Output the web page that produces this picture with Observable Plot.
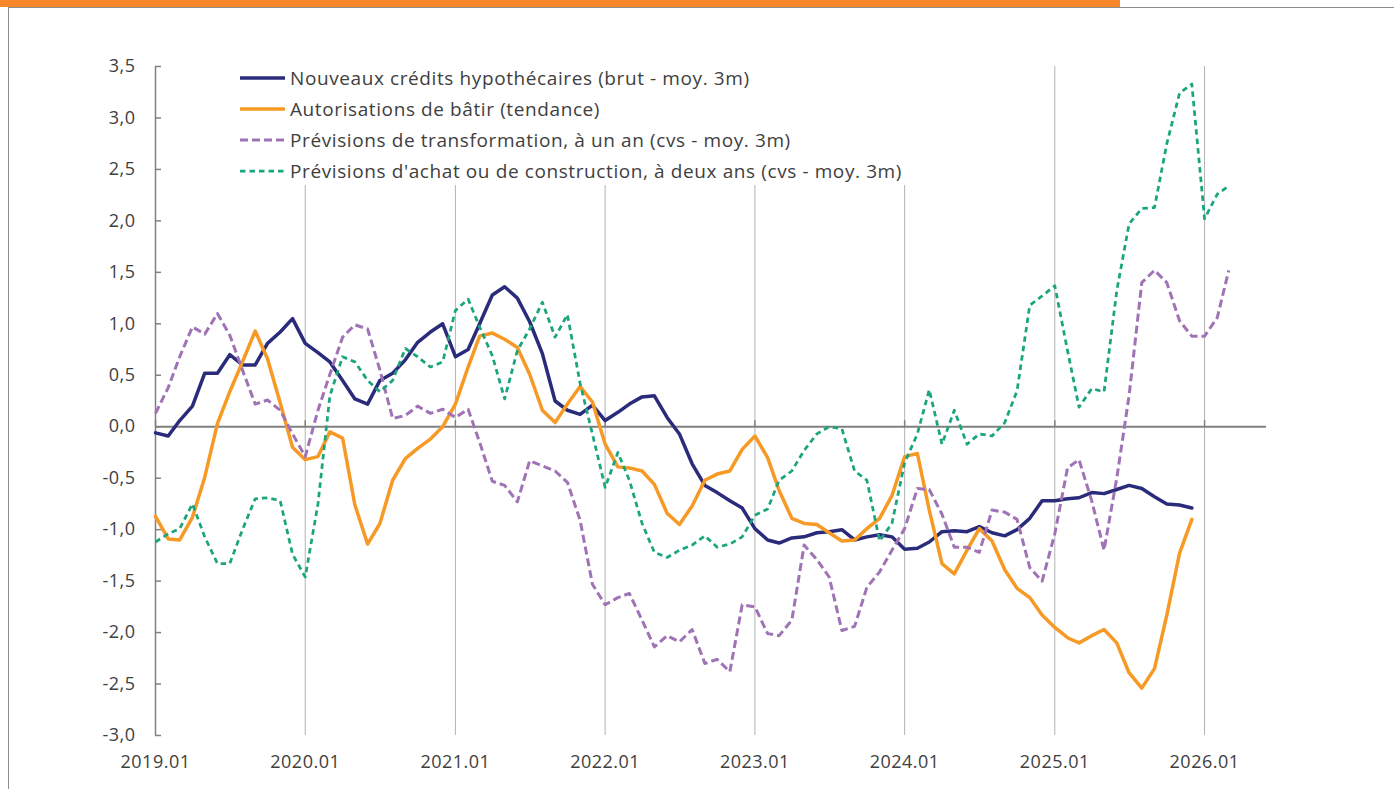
<!DOCTYPE html>
<html>
<head>
<meta charset="utf-8">
<script src="https://cdn.jsdelivr.net/npm/d3@7"></script>
<script src="https://cdn.jsdelivr.net/npm/@observablehq/plot@0.6"></script>
<style>
  html, body { margin: 0; padding: 0; background: #fff; }
  body { font-family: "Open Sans", sans-serif; color: #404040; }
  #wrap { position: relative; width: 1394px; height: 789px; overflow: hidden; background: #fff; }
  #chart { position: absolute; left: 0; top: 0; }
  #chart svg text { letter-spacing: 0.5px; }
  #topbar { position: absolute; left: 0; top: 0; width: 1120px; height: 7px; background: #F7882A; z-index: 3; }
  #topline { position: absolute; left: 8px; top: 7px; width: 1386px; height: 1px; background: #8c8c8c; z-index: 3; }
  #leftline { position: absolute; left: 8px; top: 7px; width: 1px; height: 782px; background: #8c8c8c; z-index: 3; }
  #legend { position: absolute; left: 236px; top: 62px; width: 676px; height: 123px; background: #fff; z-index: 2; }
  .row { display: flex; align-items: center; height: 31px; }
  .row svg { margin-left: 4px; margin-right: 5px; flex: none; }
  .row span { font-size: 19px; letter-spacing: 0.6px; white-space: nowrap; color: #404040; }
</style>
</head>
<body>
<div id="wrap">
  <div id="topbar"></div>
  <div id="topline"></div>
  <div id="leftline"></div>
  <div id="legend"></div>
  <div id="chart"></div>
</div>
<script>
// ---- Data (monthly, first value = 2019.01) ----
const startYear = 2019;

const seriesNames = [
  "Nouveaux crédits hypothécaires (brut - moy. 3m)",
  "Autorisations de bâtir (tendance)",
  "Prévisions de transformation, à un an (cvs - moy. 3m)",
  "Prévisions d'achat ou de construction, à deux ans (cvs - moy. 3m)"
];

const credits = [
  -0.06, -0.09, 0.06, 0.20, 0.52, 0.52, 0.70, 0.60, 0.60, 0.81, 0.92, 1.05,
  0.81, 0.72, 0.63, 0.45, 0.27, 0.22, 0.45, 0.52, 0.65, 0.82, 0.92, 1.00,
  0.68, 0.75, 1.00, 1.28, 1.36, 1.25, 1.02, 0.71, 0.25, 0.16, 0.12, 0.21,
  0.06, 0.14, 0.22, 0.29, 0.30, 0.09, -0.07, -0.36, -0.57, -0.64, -0.72, -0.79,
  -0.99, -1.10, -1.13, -1.08, -1.07, -1.03, -1.02, -1.00, -1.10, -1.07, -1.05, -1.07,
  -1.19, -1.18, -1.12, -1.02, -1.01, -1.02, -0.97, -1.03, -1.06, -1.00, -0.89, -0.72,
  -0.72, -0.70, -0.69, -0.64, -0.65, -0.61, -0.57, -0.60, -0.68, -0.75, -0.76, -0.79
];

const autorisations = [
  -0.87, -1.09, -1.10, -0.88, -0.49, 0.03, 0.34, 0.63, 0.93, 0.66, 0.23, -0.20,
  -0.32, -0.29, -0.05, -0.11, -0.76, -1.14, -0.94, -0.52, -0.31, -0.21, -0.12, 0.00,
  0.22, 0.58, 0.88, 0.91, 0.85, 0.77, 0.51, 0.16, 0.04, 0.22, 0.39, 0.24,
  -0.17, -0.39, -0.40, -0.43, -0.56, -0.84, -0.95, -0.77, -0.52, -0.46, -0.43, -0.22,
  -0.09, -0.30, -0.62, -0.89, -0.94, -0.95, -1.03, -1.11, -1.10, -0.99, -0.89, -0.67,
  -0.29, -0.26, -0.81, -1.33, -1.43, -1.20, -0.99, -1.11, -1.39, -1.57, -1.66, -1.83,
  -1.95, -2.05, -2.10, -2.03, -1.97, -2.10, -2.39, -2.54, -2.35, -1.83, -1.23, -0.90
];

const transformation = [
  0.13, 0.38, 0.68, 0.97, 0.90, 1.10, 0.89, 0.55, 0.22, 0.26, 0.16, -0.07,
  -0.29, 0.16, 0.51, 0.87, 0.99, 0.95, 0.55, 0.08, 0.11, 0.20, 0.13, 0.17,
  0.09, 0.17, -0.15, -0.53, -0.57, -0.73, -0.33, -0.38, -0.43, -0.54, -0.91, -1.53,
  -1.73, -1.66, -1.62, -1.88, -2.14, -2.03, -2.09, -1.97, -2.30, -2.26, -2.38, -1.73,
  -1.75, -2.01, -2.03, -1.88, -1.15, -1.29, -1.46, -1.98, -1.94, -1.56, -1.41, -1.20,
  -0.99, -0.60, -0.61, -0.85, -1.17, -1.17, -1.22, -0.81, -0.83, -0.90, -1.37, -1.50,
  -1.04, -0.40, -0.32, -0.72, -1.20, -0.50, 0.30, 1.40, 1.52, 1.40, 1.03, 0.88,
  0.88, 1.06, 1.52
];

const achat = [
  -1.12, -1.04, -0.99, -0.75, -1.07, -1.33, -1.33, -1.00, -0.70, -0.69, -0.72, -1.24,
  -1.46, -0.75, 0.30, 0.68, 0.63, 0.45, 0.34, 0.45, 0.76, 0.68, 0.58, 0.63,
  1.13, 1.24, 0.97, 0.69, 0.27, 0.74, 0.95, 1.21, 0.87, 1.09, 0.42, -0.07,
  -0.59, -0.25, -0.52, -0.94, -1.22, -1.27, -1.20, -1.15, -1.06, -1.17, -1.14, -1.07,
  -0.86, -0.80, -0.52, -0.43, -0.23, -0.07, 0.00, -0.02, -0.43, -0.52, -1.11, -0.94,
  -0.35, -0.07, 0.36, -0.17, 0.16, -0.17, -0.07, -0.09, 0.04, 0.35, 1.18, 1.27,
  1.37, 0.74, 0.19, 0.37, 0.34, 1.32, 1.97, 2.12, 2.13, 2.75, 3.24, 3.33,
  2.02, 2.26, 2.34
];

const yTickValues = [-3, -2.5, -2, -1.5, -1, -0.5, 0, 0.5, 1, 1.5, 2, 2.5, 3, 3.5];
const tickYears = [2019, 2020, 2021, 2022, 2023, 2024, 2025, 2026];

// ---- Styles ----
const colors = ["#2B2B7B", "#F79A25", "#9F73B5", "#1BA57F"];
const widths = [3.5, 3.5, 3, 2.75];
const dashes = [null, null, "8,4", "5.5,4"];

// ---- Build ----
const monthDate = i => new Date(Date.UTC(startYear, i, 1));
const toRows = vals => vals.map((v, i) => ({date: monthDate(i), value: v}));
const allSeries = [credits, autorisations, transformation, achat];

const yearDates = tickYears.map(y => new Date(Date.UTC(y, 0, 1)));
const gridDates = yearDates.slice(1);
const xDomain = [monthDate(0), new Date(Date.UTC(2026, 5, 1))];
const yDomain = [-3, 3.5];

const W = 1394, H = 789, mL = 155, mR = 128, mT = 66, mB = 54;
const frameW = W - mL - mR, frameH = H - mT - mB;
const zeroFromTop = (yDomain[1] - 0) / (yDomain[1] - yDomain[0]) * frameH;

const fmtY = d => d.toFixed(1).replace(".", ",");
const fmtX = d3.utcFormat("%Y.%m");

const lineMarks = allSeries.map((vals, k) =>
  Plot.line(toRows(vals), {
    x: "date", y: "value",
    stroke: colors[k], strokeWidth: widths[k],
    strokeDasharray: dashes[k] || undefined,
    strokeLinejoin: "round", strokeLinecap: dashes[k] ? "butt" : "round"
  })
);

const chart = Plot.plot({
  width: W, height: H,
  marginLeft: mL, marginRight: mR, marginTop: mT, marginBottom: mB,
  x: {type: "utc", domain: xDomain, label: null},
  y: {domain: yDomain, label: null},
  style: {fontFamily: "'Open Sans', sans-serif", fontSize: "18px", color: "#404040", background: "white", overflow: "visible"},
  marks: [
    Plot.ruleX(gridDates, {x: d => d, y1: yDomain[0], y2: yDomain[1], stroke: "#b3b3b3", strokeWidth: 1}),
    Plot.ruleX([xDomain[0]], {y1: yDomain[0], y2: yDomain[1], stroke: "#808080", strokeWidth: 1.5}),
    Plot.tickY(yTickValues, {y: d => d, insetRight: frameW - 6, stroke: "#808080", strokeWidth: 1.5}),
    Plot.tickX(yearDates, {x: d => d, insetTop: zeroFromTop - 6, insetBottom: frameH - zeroFromTop, stroke: "#808080", strokeWidth: 1.5}),
    Plot.ruleY([0], {stroke: "#808080", strokeWidth: 2}),
    Plot.axisY({ticks: yTickValues, tickSize: 0, tickPadding: 20, tickFormat: fmtY, label: null, fontSize: 18, fill: "#404040"}),
    Plot.axisX({ticks: yearDates, tickSize: 0, tickPadding: 20, tickFormat: fmtX, label: null, fontSize: 18, fill: "#404040"}),
    ...lineMarks
  ]
});
document.getElementById("chart").appendChild(chart);

// ---- Legend ----
const legend = document.getElementById("legend");
seriesNames.forEach((name, k) => {
  const row = document.createElement("div");
  row.className = "row";
  const ns = "http://www.w3.org/2000/svg";
  const s = document.createElementNS(ns, "svg");
  s.setAttribute("width", "45");
  s.setAttribute("height", "10");
  const l = document.createElementNS(ns, "line");
  l.setAttribute("x1", "0"); l.setAttribute("x2", "45");
  l.setAttribute("y1", "5"); l.setAttribute("y2", "5");
  l.setAttribute("stroke", colors[k]);
  l.setAttribute("stroke-width", widths[k]);
  if (dashes[k]) l.setAttribute("stroke-dasharray", dashes[k]);
  s.appendChild(l);
  const t = document.createElement("span");
  t.textContent = name;
  row.appendChild(s);
  row.appendChild(t);
  legend.appendChild(row);
});
</script>
</body>
</html>
